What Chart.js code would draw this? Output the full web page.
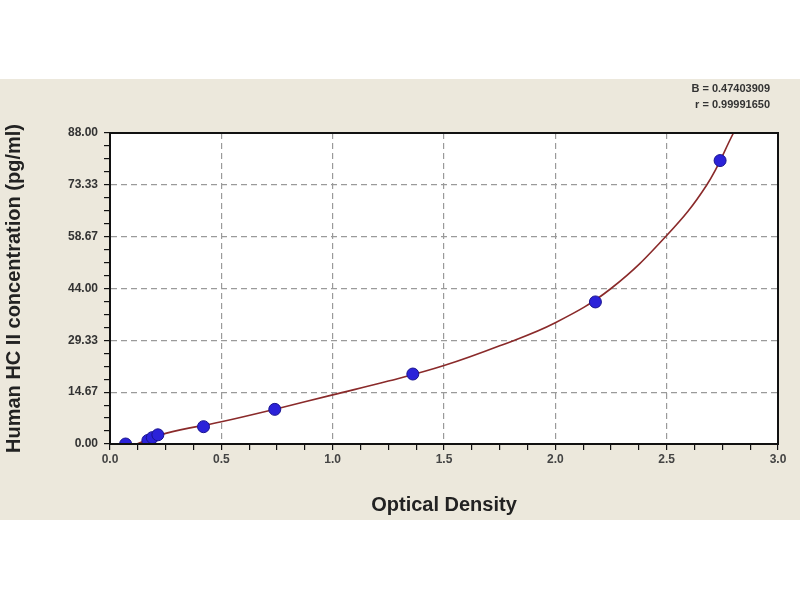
<!DOCTYPE html>
<html>
<head>
<meta charset="utf-8">
<script src="https://cdn.jsdelivr.net/npm/chart.js@4.4.0/dist/chart.umd.min.js"></script>
<style>
  html, body { margin: 0; padding: 0; background: #fff; }
  #wrap { width: 800px; height: 600px; }
</style>
</head>
<body>
<div id="wrap"><canvas id="myCanvas" width="800" height="600"></canvas></div>
<script>
// standard points (optical density vs concentration)
const odValues = [0.07, 0.17, 0.19, 0.215, 0.42, 0.74, 1.36, 2.18, 2.74];
const concValues = [0.0, 1.0, 1.8, 2.6, 4.9, 9.8, 19.8, 40.2, 80.2];

// fitted curve
const curveOd = [0.12, 0.25, 0.5, 0.75, 1.0, 1.25, 1.5, 1.75, 2.0, 2.25, 2.5, 2.68, 2.8];
const curveConc = [0.0, 3.0, 6.3, 10.0, 13.9, 17.8, 22.2, 27.8, 34.3, 44.0, 59.0, 73.3, 88.0];

const yTickLabels = ["0.00", "14.67", "29.33", "44.00", "58.67", "73.33", "88.00"];
const xTickLabels = ["0.0", "0.5", "1.0", "1.5", "2.0", "2.5", "3.0"];
const fitText = ["B = 0.47403909", "r = 0.99991650"];

const Y_MAX = 88;
const X_MAX = 3;

const backgroundPlugin = {
  id: "background",
  beforeDraw(chart) {
    const ctx = chart.ctx;
    const a = chart.chartArea;
    ctx.save();
    ctx.fillStyle = "#ffffff";
    ctx.fillRect(0, 0, chart.width, chart.height);
    ctx.fillStyle = "#ece8dc";
    ctx.fillRect(0, 79, chart.width, 441);
    ctx.fillStyle = "#ffffff";
    ctx.fillRect(a.left, a.top, a.right - a.left, a.bottom - a.top);
    ctx.restore();
  },
  afterDraw(chart) {
    const ctx = chart.ctx;
    const a = chart.chartArea;
    ctx.save();
    ctx.strokeStyle = "#111";
    ctx.lineWidth = 2;
    ctx.strokeRect(a.left, a.top, a.right - a.left, a.bottom - a.top);
    ctx.fillStyle = "#333";
    ctx.font = "bold 11px 'Liberation Sans', Arial, sans-serif";
    ctx.textAlign = "right";
    ctx.textBaseline = "middle";
    ctx.fillText(fitText[0], 770, 89);
    ctx.fillText(fitText[1], 770, 105);
    ctx.restore();
  }
};

const ctx = document.getElementById("myCanvas").getContext("2d");

new Chart(ctx, {
  type: "scatter",
  data: {
    datasets: [
      {
        label: "fit",
        data: curveOd.map((x, i) => ({ x: x, y: curveConc[i] })),
        showLine: true,
        borderColor: "#8a2a2a",
        borderWidth: 1.6,
        pointRadius: 0,
        tension: 0.4,
        order: 2
      },
      {
        label: "standards",
        data: odValues.map((x, i) => ({ x: x, y: concValues[i] })),
        backgroundColor: "#2b22d9",
        borderColor: "#1a1490",
        borderWidth: 1,
        pointRadius: 6,
        order: 1
      }
    ]
  },
  options: {
    responsive: false,
    animation: false,
    layout: { padding: { left: 0, top: 133, right: 22, bottom: 80 } },
    plugins: {
      legend: { display: false },
      tooltip: { enabled: false }
    },
    scales: {
      x: {
        type: "linear",
        min: 0,
        max: X_MAX,
        afterBuildTicks(scale) {
          const t = [];
          for (let i = 0; i <= 24; i++) t.push({ value: i * X_MAX / 24 });
          scale.ticks = t;
        },
        afterFit(scale) { scale.height = 76; },
        ticks: {
          autoSkip: false,
          maxRotation: 0,
          padding: 2,
          color: "#444",
          font: { family: "'Liberation Sans', Arial, sans-serif", size: 12, weight: "bold" },
          callback: (v, i) => (i % 4 === 0 ? xTickLabels[i / 4] : "")
        },
        grid: {
          color: (c) => (c.index % 4 === 0 && c.index > 0 && c.index < 24 ? "#9a9a9a" : "rgba(0,0,0,0)"),
          tickColor: "#111",
          tickLength: 6,
          lineWidth: 1.2
        },
        border: { display: true, color: "#111", width: 2, dash: [6, 4] },
        title: {
          display: true,
          text: "Optical Density",
          color: "#222",
          font: { family: "'Liberation Sans', Arial, sans-serif", size: 20, weight: "bold" },
          padding: { top: 0, bottom: 3 }
        }
      },
      y: {
        type: "linear",
        min: 0,
        max: Y_MAX,
        afterBuildTicks(scale) {
          const t = [];
          for (let i = 0; i <= 24; i++) t.push({ value: i * Y_MAX / 24 });
          scale.ticks = t;
        },
        afterFit(scale) { scale.width = 110; },
        ticks: {
          autoSkip: false,
          padding: 6,
          color: "#333",
          font: { family: "'Liberation Sans', Arial, sans-serif", size: 12, weight: "bold" },
          callback: (v, i) => (i % 4 === 0 ? yTickLabels[i / 4] : "")
        },
        grid: {
          color: (c) => (c.index % 4 === 0 && c.index > 0 && c.index < 24 ? "#9a9a9a" : "rgba(0,0,0,0)"),
          tickColor: "#111",
          tickLength: 6,
          lineWidth: 1.2
        },
        border: { display: true, color: "#111", width: 2, dash: [6, 4] },
        title: {
          display: true,
          text: "Human HC II concentration (pg/ml)",
          color: "#222",
          font: { family: "'Liberation Sans', Arial, sans-serif", size: 20, weight: "bold" },
          padding: { top: 2, bottom: 0 }
        }
      }
    }
  },
  plugins: [backgroundPlugin]
});
</script>
</body>
</html>
